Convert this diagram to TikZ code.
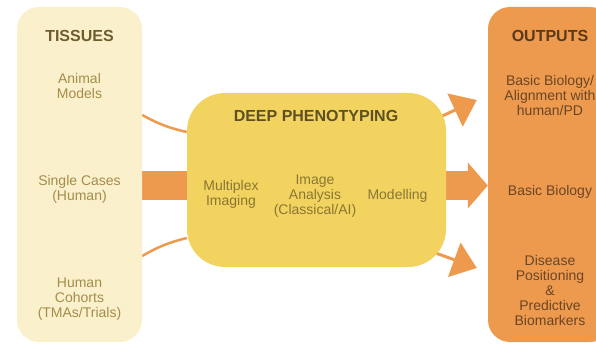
\documentclass[tikz,border=0pt]{standalone}
\usepackage{fontspec}
\setmainfont{Liberation Sans}
\usepackage{tikz}
\usetikzlibrary{positioning,arrows.meta,backgrounds}
\definecolor{tissuefill}{HTML}{FBF0CC}
\definecolor{deepfill}{HTML}{F2D35F}
\definecolor{outfill}{HTML}{EE9A4E}
\definecolor{tissuetitle}{HTML}{6E5E2E}
\definecolor{tissuetext}{HTML}{A48C4A}
\definecolor{deeptitle}{HTML}{5E5024}
\definecolor{deeptext}{HTML}{8A7634}
\definecolor{outtitle}{HTML}{5A3A1C}
\definecolor{outtext}{HTML}{6A4525}
\tikzset{side box/.style={rounded corners=22pt,minimum width=125pt,minimum height=335pt,inner sep=0pt},
	title node/.style={inner sep=0pt,font=\fontsize{16}{18}\selectfont\bfseries},
	item node/.style={align=center,inner sep=0pt,font=\fontsize{14}{15}\selectfont},
	thin link/.style={draw=outfill,line width=2.5pt},
	small arrow/.style={draw=outfill,line width=3pt,-{Triangle[length=24pt,width=36pt]}},}

\begin{document}
\begin{tikzpicture}[x=1pt,y=1pt]
	\useasboundingbox (0,0) rectangle (596,343);
	\clip (0,0) rectangle (596,343);
	
	\node[side box,fill=tissuefill] (tissues) at (79.5,168.5) {};
	\node[rounded corners=38pt,minimum width=259pt,minimum height=174pt,inner sep=0pt,fill=deepfill] (deep) at (316.5,163) {};
	\node[side box,fill=outfill,minimum width=124pt] (outputs) at (550,168.5) {};
	
	\node[title node,text=tissuetitle] (tissuestitle) at (79.5,307) {TISSUES};
	\node[item node,text=tissuetext] (animal) at (79.5,257) {Animal\\Models};
	\node[item node,text=tissuetext] (single) at (79.5,154) {Single Cases\\(Human)};
	\node[item node,text=tissuetext] (cohorts) at (79.5,44) {Human\\Cohorts\\(TMAs/Trials)};
	
	\node[title node,text=deeptitle] (deeptitle) at (316,227) {DEEP PHENOTYPING};
	\node[item node,text=deeptext] (multiplex) at (231,148.5) {Multiplex\\Imaging};
	\node[item node,text=deeptext] (analysis) at (315,147) {Image\\Analysis\\(Classical/AI)};
	\node[item node,text=deeptext] (modelling) at (397.5,147) {Modelling};
	
	\node[title node,text=outtitle] (outputstitle) at (550,307) {OUTPUTS};
	\node[item node,text=outtext] (align) at (550,248) {Basic Biology/\\Alignment with\\human/PD};
	\node[item node,text=outtext] (basic) at (550,151) {Basic Biology};
	\node[item node,text=outtext] (disease) at (550,53) {Disease\\Positioning\\\&\\Predictive\\Biomarkers};
	
	\begin{pgfonlayer}{background}
	\path[thin link]
	([yshift=59.5pt]tissues.east) edge[bend right=8] ([yshift=48pt]deep.west)
	([yshift=-81.5pt]tissues.east) edge[bend left=8] ([yshift=-58pt]deep.west)
	;
	\draw[outfill,line width=29pt] ([yshift=-11pt]tissues.east) -- ([yshift=-5.5pt]deep.west);
	\draw[outfill,line width=29pt,-{Triangle[length=20pt,width=45pt]}] ([yshift=-5.5pt]deep.east) -- ([yshift=-11pt]outputs.west);
	\draw[small arrow] ([xshift=-16pt,yshift=58.4pt]deep.east) -- ([xshift=-11pt,yshift=74.5pt]outputs.west);
	\draw[small arrow] ([xshift=-16pt,yshift=-71pt]deep.east) -- ([xshift=-11pt,yshift=-93.5pt]outputs.west);
	\end{pgfonlayer}
\end{tikzpicture}
\end{document}
